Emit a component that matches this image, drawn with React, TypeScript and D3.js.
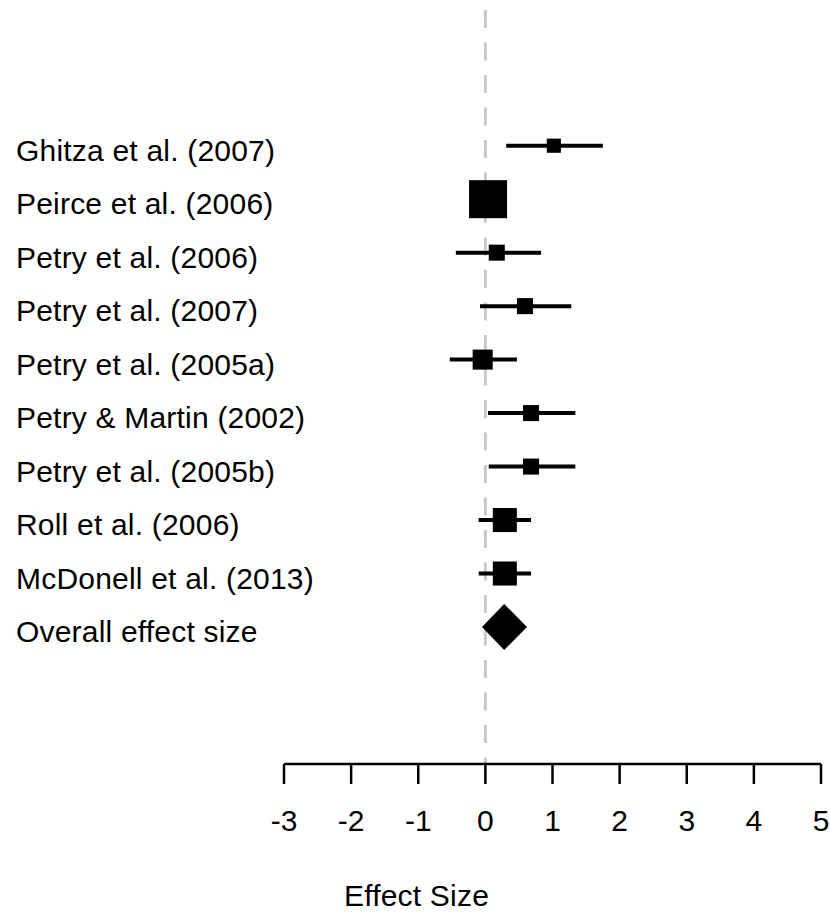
import React from "react";
import * as d3 from "d3";

const studies = [
  "Ghitza et al. (2007)",
  "Peirce et al. (2006)",
  "Petry et al. (2006)",
  "Petry et al. (2007)",
  "Petry et al. (2005a)",
  "Petry & Martin (2002)",
  "Petry et al. (2005b)",
  "Roll et al. (2006)",
  "McDonell et al. (2013)",
];
const estimates = [1.02, 0.04, 0.17, 0.59, -0.04, 0.68, 0.68, 0.29, 0.29];
const lower = [0.31, -0.1, -0.44, -0.08, -0.53, 0.04, 0.05, -0.1, -0.1];
const upper = [1.75, 0.18, 0.83, 1.28, 0.47, 1.34, 1.34, 0.68, 0.68];
const weights = [2.5, 18, 3.2, 3.2, 5, 3.2, 3.2, 7.2, 7.2];

const overallLabel = "Overall effect size";
const overallEstimate = 0.28;
const overallLower = -0.05;
const overallUpper = 0.62;

const xTicks = [-3, -2, -1, 0, 1, 2, 3, 4, 5];
const xTitle = "Effect Size";

const W = 830;
const H = 914;
const FONT = "'Liberation Sans', Arial, sans-serif";

export default function App() {
  const x = d3.scaleLinear().domain([-3, 5]).range([284, 821]);
  const nRows = studies.length + 1;
  const y = d3.scaleLinear().domain([0, nRows - 1]).range([145.7, 627]);
  const size = d3.scaleSqrt().domain([0, 18]).range([0, 38]);
  const axisY = 764;
  const tickLen = 20;
  const labelX = 16;
  const fontSize = 30;
  const ls = 0.2;
  const textDy = 15;

  const oy = y(studies.length);
  const diamondH = 23;
  const diamond = d3.line()([
    [x(overallLower), oy],
    [x(overallEstimate), oy - diamondH],
    [x(overallUpper), oy],
    [x(overallEstimate), oy + diamondH],
  ]) + "Z";

  return (
    <svg
      width={W}
      height={H}
      style={{ position: "absolute", left: 0, top: 0, background: "#fff" }}
      fontFamily={FONT}
    >
      <rect x={0} y={0} width={W} height={H} fill="#fff" />
      {/* reference line at zero */}
      <line
        x1={x(0)}
        x2={x(0)}
        y1={10}
        y2={axisY}
        stroke="#c8c8c8"
        strokeWidth={3}
        strokeDasharray="18 14.5"
      />
      {/* labels */}
      {studies.map((s, i) => (
        <text
          key={s}
          x={labelX}
          y={y(i) + textDy}
          fontSize={fontSize}
          letterSpacing={ls}
          fill="#000"
        >
          {s}
        </text>
      ))}
      <text
        x={labelX}
        y={oy + textDy}
        fontSize={fontSize}
        letterSpacing={ls}
        fill="#000"
      >
        {overallLabel}
      </text>
      {/* CIs and squares */}
      {studies.map((s, i) => {
        const side = size(weights[i]);
        return (
          <g key={"m" + s}>
            <line
              x1={x(lower[i])}
              x2={x(upper[i])}
              y1={y(i)}
              y2={y(i)}
              stroke="#000"
              strokeWidth={4}
            />
            <rect
              x={x(estimates[i]) - side / 2}
              y={y(i) - side / 2}
              width={side}
              height={side}
              fill="#000"
            />
          </g>
        );
      })}
      <path d={diamond} fill="#000" />
      {/* axis */}
      <line
        x1={x(xTicks[0])}
        x2={x(xTicks[xTicks.length - 1])}
        y1={axisY}
        y2={axisY}
        stroke="#000"
        strokeWidth={2.5}
      />
      {xTicks.map((t) => (
        <g key={"t" + t}>
          <line
            x1={x(t)}
            x2={x(t)}
            y1={axisY}
            y2={axisY + tickLen}
            stroke="#000"
            strokeWidth={2.5}
          />
          <text
            x={x(t)}
            y={831}
            fontSize={fontSize}
            textAnchor="middle"
            fill="#000"
          >
            {t < 0 ? "-" + Math.abs(t) : String(t)}
          </text>
        </g>
      ))}
      <text
        x={416.5}
        y={906}
        fontSize={fontSize}
        letterSpacing={ls}
        textAnchor="middle"
        fill="#000"
      >
        {xTitle}
      </text>
    </svg>
  );
}
